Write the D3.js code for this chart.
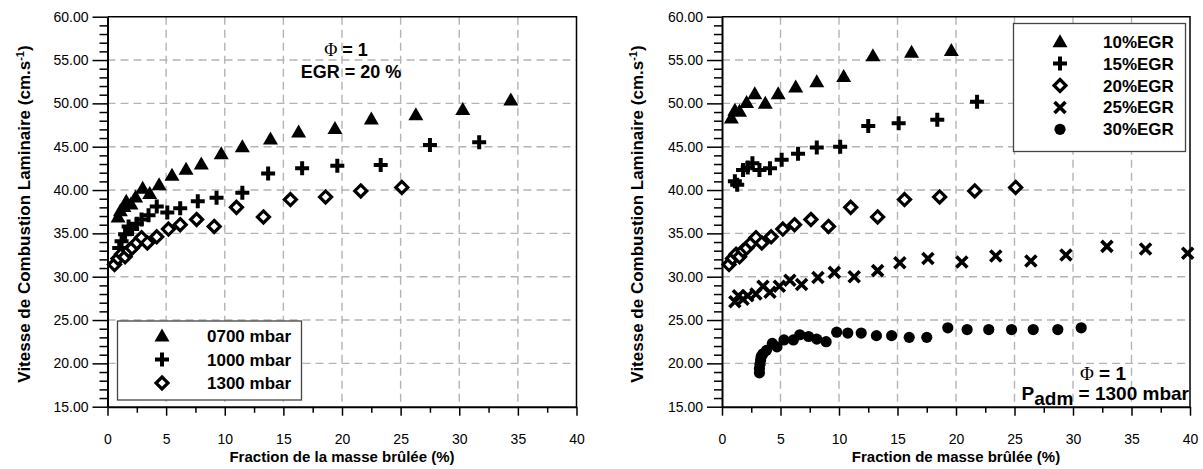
<!DOCTYPE html>
<html><head><meta charset="utf-8">
<script src="https://cdn.jsdelivr.net/npm/d3@7"></script>
<style>
body{margin:0;background:#fff}
svg{display:block}
text{font-family:"Liberation Sans",Arial,sans-serif}
</style>
</head><body>
<svg id="c" width="1203" height="469"></svg>
<script>
// ---------- tick values ----------
const xTickValues = [0, 5, 10, 15, 20, 25, 30, 35, 40];
const xMinorTickValues = [2.5, 7.5, 12.5, 17.5, 22.5, 27.5, 32.5, 37.5];
const yTickValues = [15, 20, 25, 30, 35, 40, 45, 50, 55, 60];

// ---------- left chart data (EGR = 20 %) ----------
const leftLabels = ["0700 mbar", "1000 mbar", "1300 mbar"];
const p0700X = [0.9, 1.1, 1.4, 1.6, 2.0, 2.4, 3.0, 3.6, 4.4, 5.5, 6.7, 8.0, 9.7, 11.5, 13.9, 16.3, 19.4, 22.5, 26.3, 30.3, 34.4];
const p0700Y = [36.9, 37.6, 38.1, 38.7, 38.4, 39.2, 40.2, 39.6, 40.6, 41.7, 42.4, 43.0, 44.2, 45.0, 45.9, 46.7, 47.1, 48.2, 48.7, 49.3, 50.4];
const p1000X = [1.0, 1.2, 1.5, 1.8, 2.1, 2.5, 2.9, 3.5, 4.2, 5.1, 6.2, 7.7, 9.3, 11.5, 13.7, 16.6, 19.6, 23.3, 27.5, 31.7];
const p1000Y = [33.3, 34.1, 34.9, 35.8, 35.5, 36.1, 36.6, 37.1, 38.1, 37.4, 37.9, 38.7, 39.1, 39.7, 41.9, 42.5, 42.8, 42.9, 45.2, 45.5];
const p1300X = [0.6, 0.9, 1.2, 1.5, 1.8, 2.1, 2.5, 2.9, 3.4, 4.2, 5.2, 6.2, 7.6, 9.1, 11.0, 13.3, 15.6, 18.6, 21.6, 25.1];
const p1300Y = [31.4, 32.1, 32.6, 32.3, 33.0, 33.3, 33.9, 34.5, 33.9, 34.6, 35.5, 36.0, 36.6, 35.8, 38.0, 36.9, 38.9, 39.2, 39.9, 40.3];

// ---------- right chart data (Padm = 1300 mbar) ----------
const rightLabels = ["10%EGR", "15%EGR", "20%EGR", "25%EGR", "30%EGR"];
const egr10X = [0.8, 1.1, 1.5, 2.1, 2.8, 3.7, 4.8, 6.3, 8.1, 10.4, 12.9, 16.2, 19.6];
const egr10Y = [48.3, 49.2, 49.1, 50.1, 51.1, 50.0, 51.1, 51.9, 52.5, 53.1, 55.5, 55.9, 56.1];
const egr15X = [1.1, 1.3, 1.8, 2.2, 2.6, 3.2, 4.1, 5.1, 6.5, 8.1, 10.1, 12.5, 15.1, 18.4, 21.8];
const egr15Y = [41.0, 40.6, 42.3, 42.6, 43.1, 42.3, 42.5, 43.5, 44.2, 44.9, 45.0, 47.4, 47.7, 48.1, 50.2];
const egr20X = [0.6, 0.9, 1.2, 1.5, 1.8, 2.1, 2.5, 2.9, 3.4, 4.2, 5.2, 6.2, 7.6, 9.1, 11.0, 13.3, 15.6, 18.6, 21.6, 25.1];
const egr20Y = [31.4, 32.1, 32.6, 32.3, 33.0, 33.3, 33.9, 34.5, 33.9, 34.6, 35.5, 36.0, 36.6, 35.8, 38.0, 36.9, 38.9, 39.2, 39.9, 40.3];
const egr25X = [1.1, 1.4, 1.8, 2.2, 2.9, 3.5, 4.1, 4.9, 5.8, 6.8, 8.2, 9.6, 11.3, 13.3, 15.2, 17.6, 20.5, 23.4, 26.4, 29.4, 32.9, 36.2, 39.8];
const egr25Y = [27.1, 27.8, 27.4, 27.8, 28.0, 28.9, 28.2, 28.9, 29.6, 29.1, 29.9, 30.5, 30.0, 30.7, 31.6, 32.1, 31.7, 32.4, 31.8, 32.5, 33.5, 33.2, 32.7];
const egr30X = [3.2, 3.2, 3.25, 3.3, 3.35, 3.5, 3.8, 4.3, 4.7, 5.3, 6.1, 6.65, 7.4, 8.1, 8.9, 9.8, 10.75, 11.9, 13.2, 14.5, 16.0, 17.5, 19.3, 20.95, 22.8, 24.75, 26.6, 28.7, 30.7];
const egr30Y = [18.9, 19.4, 19.9, 20.4, 20.8, 21.1, 21.5, 22.3, 21.9, 22.7, 22.7, 23.3, 23.1, 22.8, 22.5, 23.6, 23.5, 23.5, 23.2, 23.2, 23.0, 23.0, 24.1, 23.9, 23.9, 23.9, 23.9, 23.9, 24.1];

// ---------- drawing ----------
const svg = d3.select("#c");

function drawMarker(g, type, cx, cy) {
  const t = `translate(${cx},${cy})`;
  if (type === "triangle") {
    g.append("path").attr("transform", t).attr("d", "M0,-7.5L7.5,5.5L-7.5,5.5Z").attr("fill", "#000");
  } else if (type === "plus") {
    g.append("path").attr("transform", t).attr("d", "M-7,0H7M0,-7V7").attr("stroke", "#000").attr("stroke-width", 4).attr("fill", "none");
  } else if (type === "diamond") {
    g.append("path").attr("transform", t).attr("d", "M0,-6L6,0L0,6L-6,0Z").attr("stroke", "#000").attr("stroke-width", 3.2).attr("fill", "#fff");
  } else if (type === "x") {
    g.append("path").attr("transform", t).attr("d", "M-5.5,-5.5L5.5,5.5M-5.5,5.5L5.5,-5.5").attr("stroke", "#000").attr("stroke-width", 3.6).attr("fill", "none");
  } else if (type === "circle") {
    g.append("circle").attr("cx", cx).attr("cy", cy).attr("r", 5.6).attr("fill", "#000");
  }
}

function panel(cfg) {
  const x = d3.scaleLinear().domain([0, 40]).range([cfg.x0, cfg.x1]);
  const y = d3.scaleLinear().domain([15, 60]).range([cfg.y1, cfg.y0]);
  const g = svg.append("g");

  // grid
  const grid = g.append("g").attr("stroke", "#b4b4b4").attr("stroke-width", 1.4).attr("stroke-dasharray", "8,5");
  xTickValues.filter(v => v > 0 && v < 40).forEach(v => {
    grid.append("line").attr("x1", x(v)).attr("x2", x(v)).attr("y1", y(60)).attr("y2", y(15));
  });
  yTickValues.filter(v => v > 15 && v < 60).forEach(v => {
    grid.append("line").attr("x1", x(0)).attr("x2", x(40)).attr("y1", y(v)).attr("y2", y(v));
  });

  // frame (top / right)
  g.append("path").attr("d", `M${x(0)},${y(60)}H${x(40)}V${y(15)}`).attr("fill", "none").attr("stroke", "#000").attr("stroke-width", 1.5);

  // data
  const dg = g.append("g");
  cfg.series.forEach(s => {
    s.xs.forEach((xv, i) => drawMarker(dg, s.type, x(xv), y(s.ys[i])));
  });

  // y axis
  const ya = g.append("g").attr("transform", `translate(${x(0)},0)`)
    .call(d3.axisLeft(y).tickValues(yTickValues).tickFormat(d3.format(".2f")).tickSize(15).tickSizeOuter(0).tickPadding(4));
  const yMinor = d3.range(16, 60).filter(v => v % 5 !== 0);
  const ym = g.append("g").attr("transform", `translate(${x(0)},0)`)
    .call(d3.axisLeft(y).tickValues(yMinor).tickFormat("").tickSize(8).tickSizeOuter(0));
  ym.select(".domain").remove();
  ya.selectAll("text").attr("font-size", 14).attr("fill", "#000").attr("font-family", "Liberation Sans, Arial, sans-serif");
  [ya, ym].forEach(a => { a.selectAll("line").attr("stroke", "#000").attr("stroke-width", 1.5); });
  ya.select(".domain").attr("stroke", "#000").attr("stroke-width", 2);

  // x axis
  const xa = g.append("g").attr("transform", `translate(0,${y(15)})`)
    .call(d3.axisBottom(x).tickValues(xTickValues).tickSize(9).tickSizeOuter(0).tickPadding(18));
  const xm = g.append("g").attr("transform", `translate(0,${y(15)})`)
    .call(d3.axisBottom(x).tickValues(xMinorTickValues).tickFormat("").tickSize(6).tickSizeOuter(0));
  xm.select(".domain").remove();
  xa.selectAll("text").attr("font-size", 14).attr("fill", "#000").attr("font-family", "Liberation Sans, Arial, sans-serif");
  [xa, xm].forEach(a => { a.selectAll("line").attr("stroke", "#000").attr("stroke-width", 1.5); });
  xa.select(".domain").attr("stroke", "#000").attr("stroke-width", 2);

  // axis titles
  g.append("text").attr("x", (cfg.x0 + cfg.x1) / 2).attr("y", 462).attr("text-anchor", "middle")
    .attr("font-size", 15).attr("font-weight", "bold").text(cfg.xTitle);
  const yt = g.append("text").attr("transform", `translate(${cfg.yTitleX},214) rotate(-90)`).attr("text-anchor", "middle")
    .attr("font-size", 17).attr("font-weight", "bold");
  yt.append("tspan").text("Vitesse de Combustion Laminaire (cm.s");
  yt.append("tspan").attr("dy", -6).attr("font-size", 11).text("-1");
  yt.append("tspan").attr("dy", 6).text(")");

  // legend
  const L = cfg.legend;
  const lg = g.append("g");
  lg.append("rect").attr("x", L.x).attr("y", L.y).attr("width", L.w).attr("height", L.h)
    .attr("fill", "#fff").attr("stroke", "#444").attr("stroke-width", 1.3);
  cfg.series.forEach((s, i) => {
    const cy = L.rowY0 + i * L.rowDy;
    drawMarker(lg, s.type, L.symX, cy);
    lg.append("text").attr("x", L.textX).attr("y", cy + 6).attr("font-size", 17).attr("font-weight", "bold").text(s.label);
  });
  return {x, y, g};
}

const left = panel({
  x0: 107.5, x1: 576.5, y0: 16.7, y1: 406.7, yTitleX: 30,
  xTitle: "Fraction de la masse brûlée (%)",
  series: [
    {label: leftLabels[0], type: "triangle", xs: p0700X, ys: p0700Y},
    {label: leftLabels[1], type: "plus", xs: p1000X, ys: p1000Y},
    {label: leftLabels[2], type: "diamond", xs: p1300X, ys: p1300Y}
  ],
  legend: {x: 117.5, y: 321, w: 184, h: 79, symX: 162, textX: 207, rowY0: 336, rowDy: 23.5}
});

const right = panel({
  x0: 722, x1: 1190, y0: 16.7, y1: 406.7, yTitleX: 643,
  xTitle: "Fraction de masse brûlée (%)",
  series: [
    {label: rightLabels[0], type: "triangle", xs: egr10X, ys: egr10Y},
    {label: rightLabels[1], type: "plus", xs: egr15X, ys: egr15Y},
    {label: rightLabels[2], type: "diamond", xs: egr20X, ys: egr20Y},
    {label: rightLabels[3], type: "x", xs: egr25X, ys: egr25Y},
    {label: rightLabels[4], type: "circle", xs: egr30X, ys: egr30Y}
  ],
  legend: {x: 1013.5, y: 23.5, w: 172, h: 128, symX: 1060, textX: 1103, rowY0: 41.7, rowDy: 21.9}
});

// annotations
const a1 = left.g.append("text").attr("x", 346).attr("y", 56).attr("text-anchor", "middle").attr("font-size", 18).attr("font-weight", "bold");
a1.append("tspan").attr("font-family", "Liberation Serif, Times New Roman, serif").attr("font-weight", "normal").text("Φ");
a1.append("tspan").text(" = 1");
left.g.append("text").attr("x", 351).attr("y", 78).attr("text-anchor", "middle").attr("font-size", 18).attr("font-weight", "bold").text("EGR = 20 %");

const a2 = right.g.append("text").attr("x", 1103).attr("y", 380).attr("text-anchor", "middle").attr("font-size", 19).attr("font-weight", "bold");
a2.append("tspan").attr("font-family", "Liberation Serif, Times New Roman, serif").attr("font-weight", "normal").text("Φ");
a2.append("tspan").text(" = 1");
const a3 = right.g.append("text").attr("x", 1189).attr("y", 400).attr("text-anchor", "end").attr("font-size", 19).attr("font-weight", "bold");
a3.append("tspan").text("P");
a3.append("tspan").attr("dy", 5).text("adm");
a3.append("tspan").attr("dy", -5).text(" = 1300 mbar");
</script>
</body></html>
